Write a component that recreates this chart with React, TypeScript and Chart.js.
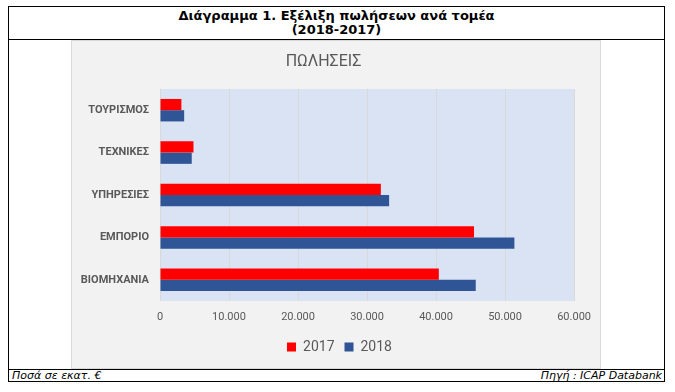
import React, { useEffect, useRef } from 'react';
import { Chart, registerables } from 'chart.js';

Chart.register(...registerables);

const categories = ['ΤΟΥΡΙΣΜΟΣ', 'ΤΕΧΝΙΚΕΣ', 'ΥΠΗΡΕΣΙΕΣ', 'ΕΜΠΟΡΙΟ', 'ΒΙΟΜΗΧΑΝΙΑ'];
const sales2017 = [3100, 4850, 32000, 45500, 40400];
const sales2018 = [3500, 4600, 33200, 51350, 45750];
const seriesLabels = ['2017', '2018'];
const xTickLabels = ['0', '10.000', '20.000', '30.000', '40.000', '50.000', '60.000'];

const chartTitle = 'ΠΩΛΗΣΕΙΣ';
const headerLine1 = 'Διάγραμμα 1. Εξέλιξη πωλήσεων ανά τομέα';
const headerLine2 = '(2018-2017)';
const footerLeft = 'Ποσά σε εκατ. €';
const footerRight = 'Πηγή : ICAP Databank';

const FONT = 'Roboto, "Open Sans", sans-serif';
const GREY_TEXT = '#595959';

const bgPlugin = {
  id: 'bgPlugin',
  afterLayout(chart: any) {
    // centre the legend on the whole panel rather than the padded box
    if (chart.legend) {
      chart.legend.left += 16;
      chart.legend.right += 16;
    }
  },
  beforeDraw(chart: any) {
    const { ctx, chartArea, width, height } = chart;
    ctx.save();
    ctx.fillStyle = '#f2f2f2';
    ctx.fillRect(0, 0, width, height);
    ctx.fillStyle = '#dae3f3';
    ctx.fillRect(chartArea.left, chartArea.top, chartArea.right - chartArea.left, chartArea.bottom - chartArea.top);
    ctx.strokeStyle = '#d9d9d9';
    ctx.lineWidth = 1;
    ctx.strokeRect(0.5, 0.5, width - 1, height - 1);
    ctx.restore();
  },
};

function SalesChart() {
  const ref = useRef<HTMLCanvasElement | null>(null);
  useEffect(() => {
    if (!ref.current) return;
    const chart = new Chart(ref.current, {
      type: 'bar',
      data: {
        labels: categories,
        datasets: [
          {
            label: seriesLabels[0],
            data: sales2017,
            backgroundColor: '#ff0000',
            borderWidth: 0,
            barPercentage: 1,
            categoryPercentage: 0.53,
          },
          {
            label: seriesLabels[1],
            data: sales2018,
            backgroundColor: '#2f5597',
            borderWidth: 0,
            barPercentage: 1,
            categoryPercentage: 0.53,
          },
        ],
      },
      options: {
        indexAxis: 'y',
        animation: false,
        responsive: false,
        maintainAspectRatio: false,
        layout: { padding: { left: 0, right: 25, top: 0, bottom: 5 } },
        plugins: {
          title: {
            display: true,
            text: chartTitle,
            color: GREY_TEXT,
            font: { family: FONT, size: 16, weight: 'normal' },
            padding: { top: 12.4, bottom: 17.4 },
          },
          legend: {
            display: true,
            position: 'bottom',
            labels: {
              color: GREY_TEXT,
              font: { family: FONT, size: 14 },
              boxWidth: 9,
              boxHeight: 9,
              padding: 10,
            },
          },
          tooltip: { enabled: false },
        },
        scales: {
          x: {
            min: 0,
            max: 60000,
            grid: { color: '#d9d9d9', lineWidth: 1, drawTicks: false },
            border: { display: false },
            ticks: {
              stepSize: 10000,
              padding: 10,
              color: GREY_TEXT,
              font: { family: FONT, size: 11 },
              maxRotation: 0,
              callback: (_v: any, i: number) => xTickLabels[i],
            },
            afterFit: (scale: any) => {
              scale.height = 29;
            },
          },
          y: {
            grid: { display: false, drawTicks: false },
            border: { display: false },
            ticks: {
              padding: 11,
              color: GREY_TEXT,
              font: { family: FONT, size: 11, weight: 'bold' },
            },
            afterFit: (scale: any) => {
              scale.width = 89;
            },
          },
        },
      },
      plugins: [bgPlugin],
    });
    return () => chart.destroy();
  }, []);
  return (
    <canvas
      ref={ref}
      width={530}
      height={329}
      style={{ position: 'absolute', left: 71, top: 40, width: 530, height: 329 }}
    />
  );
}

export default function App() {
  const abs = (s: React.CSSProperties): React.CSSProperties => ({ position: 'absolute', ...s });
  return (
    <div style={abs({ left: 0, top: 0, width: 675, height: 392, background: '#fff' })}>
      <div
        style={abs({
          left: 8,
          top: 6,
          width: 657,
          height: 376,
          border: '1px solid #000',
          boxSizing: 'border-box',
        })}
      />
      <div style={abs({ left: 8, top: 39, width: 657, height: 1, background: '#000' })} />
      <div style={abs({ left: 8, top: 369, width: 657, height: 1, background: '#000' })} />
      <div
        style={abs({
          left: 8,
          top: 9,
          width: 657,
          textAlign: 'center',
          fontFamily: '"DejaVu Sans", Verdana, sans-serif',
          fontWeight: 'bold',
          fontSize: 13,
          lineHeight: '14px',
          color: '#000',
        })}
      >
        <div>{headerLine1}</div>
        <div>{headerLine2}</div>
      </div>
      <SalesChart />
      <div
        style={abs({
          left: 12,
          top: 369,
          fontFamily: '"DejaVu Sans", Verdana, sans-serif',
          fontStyle: 'italic',
          fontSize: 11,
          lineHeight: '13px',
          color: '#000',
        })}
      >
        {footerLeft}
      </div>
      <div
        style={abs({
          right: 675 - 662,
          top: 369,
          fontFamily: '"DejaVu Sans", Verdana, sans-serif',
          fontStyle: 'italic',
          fontSize: 11,
          lineHeight: '13px',
          color: '#000',
          textAlign: 'right',
        })}
      >
        {footerRight}
      </div>
    </div>
  );
}
